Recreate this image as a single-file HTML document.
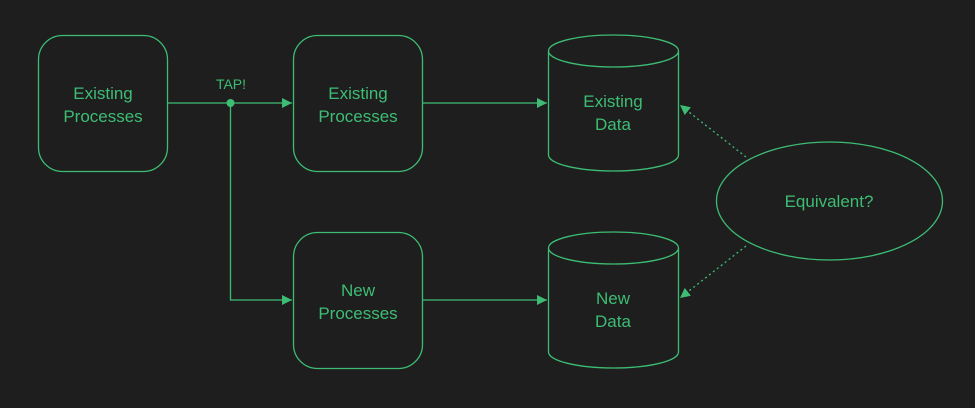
<!DOCTYPE html>
<html><head><style>
html,body{margin:0;padding:0;background:#1e1e1e;}
svg{display:block}
text{font-family:"Liberation Sans",sans-serif;fill:#3dbd74;font-size:17px;text-anchor:middle}
</style></head><body>
<svg width="975" height="408" viewBox="0 0 975 408">
<defs>
<marker id="a" viewBox="0 0 10 10" refX="10" refY="5" markerWidth="10" markerHeight="10" markerUnits="userSpaceOnUse" orient="auto"><path d="M0,0L10,5L0,10z" fill="#3dbd74"/></marker>
</defs>
<rect width="975" height="408" fill="#1e1e1e"/>
<g fill="none" stroke="#3dbd74" stroke-width="1.3">
<rect x="38.5" y="35.5" width="129" height="136" rx="24"/>
<rect x="293.5" y="35.5" width="129" height="136" rx="24"/>
<rect x="293.5" y="232.5" width="129" height="136" rx="24"/>
<path d="M548.5,51 A65,16 0 0 1 678.5,51 L678.5,155 A65,16 0 0 1 548.5,155 Z M548.5,51 A65,16 0 0 0 678.5,51"/>
<path d="M548.5,248 A65,16 0 0 1 678.5,248 L678.5,352 A65,16 0 0 1 548.5,352 Z M548.5,248 A65,16 0 0 0 678.5,248"/>
<ellipse cx="829.5" cy="201" rx="113" ry="59"/>
<path d="M167.5,103H292" marker-end="url(#a)"/>
<path d="M230.5,103V300H292" marker-end="url(#a)"/>
<path d="M422.5,103H547" marker-end="url(#a)"/>
<path d="M422.5,300H547" marker-end="url(#a)"/>
<path d="M746,157L680,105" stroke-dasharray="2,3" marker-end="url(#a)"/>
<path d="M746,246L680,298" stroke-dasharray="2,3" marker-end="url(#a)"/>
</g>
<circle cx="230.5" cy="103" r="4" fill="#3dbd74"/>
<text x="103" y="99">Existing</text><text x="103" y="122">Processes</text>
<text x="358" y="99">Existing</text><text x="358" y="122">Processes</text>
<text x="358" y="296">New</text><text x="358" y="319">Processes</text>
<text x="613" y="107">Existing</text><text x="613" y="130">Data</text>
<text x="613" y="304">New</text><text x="613" y="327">Data</text>
<text x="829" y="207">Equivalent?</text>
<text x="231" y="89" style="font-size:14px">TAP!</text>
</svg>
</body></html>
